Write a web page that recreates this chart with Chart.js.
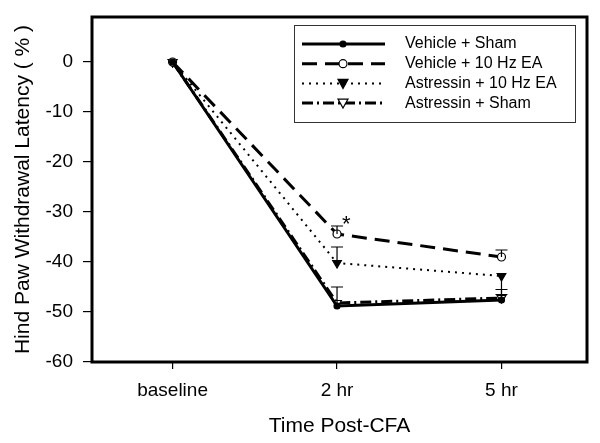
<!DOCTYPE html>
<html>
<head>
<meta charset="utf-8">
<script src="https://cdn.jsdelivr.net/npm/chart.js@4.4.0/dist/chart.umd.min.js"></script>
<style>
  body { margin: 0; background: #fff; }
</style>
</head>
<body>
<canvas id="myChart" width="600" height="443"></canvas>
<script>
// data
var timeLabels = ["baseline", "2 hr", "5 hr"];
var yTicks = [0, -10, -20, -30, -40, -50, -60];

var vehicleSham = [0, -48.8, -47.6];
var vehicleEA = [0, -34.4, -39.0];
var astressinEA = [0, -40.2, -42.8];
var astressinSham = [0, -48.2, -47.2];

// end of each error bar (null = none drawn)
var vehicleShamErr = [null, -45.0, null];
var vehicleEAErr = [null, -32.8, -37.6];
var astressinEAErr = [null, -37.0, -46.5];
var astressinShamErr = [null, null, -45.5];

var font = "'Liberation Sans', Arial, sans-serif";

function pts(arr) {
	return arr.map(function (v, i) { return { x: i, y: v }; });
}

var series = [
	{ label: "Vehicle + Sham", data: vehicleSham, err: vehicleShamErr, dash: [], width: 3, style: "circle", radius: 3, fill: "#000" },
	{ label: "Vehicle + 10 Hz EA", data: vehicleEA, err: vehicleEAErr, dash: [15, 8], width: 3, style: "circle", radius: 4, fill: "#fff" },
	{ label: "Astressin + 10 Hz EA", data: astressinEA, err: astressinEAErr, dash: [2, 5], width: 2, style: "triangle", radius: 5, fill: "#000" },
	{ label: "Astressin + Sham", data: astressinSham, err: astressinShamErr, dash: [11, 4, 2, 4], width: 3, style: "triangle", radius: 5, fill: "#fff" },
];

// frame, error bars, asterisk and boxed legend
var extras = {
	id: "extras",
	afterDatasetsDraw: function (chart) {
		var ctx = chart.ctx;
		var a = chart.chartArea;
		var xs = chart.scales.x, ys = chart.scales.y;
		ctx.save();
		// error bars
		ctx.strokeStyle = "#000";
		ctx.lineWidth = 1.2;
		series.forEach(function (s) {
			s.err.forEach(function (e, i) {
				if (e === null) return;
				var px = xs.getPixelForValue(i);
				var y0 = ys.getPixelForValue(s.data[i]);
				var y1 = ys.getPixelForValue(e);
				ctx.beginPath();
				ctx.moveTo(px, y0); ctx.lineTo(px, y1);
				ctx.moveTo(px - 6, y1); ctx.lineTo(px + 6, y1);
				ctx.stroke();
			});
		});
		// asterisk
		ctx.fillStyle = "#000";
		ctx.font = "22px " + font;
		ctx.textAlign = "left";
		ctx.textBaseline = "middle";
		ctx.fillText("*", xs.getPixelForValue(1) + 5, ys.getPixelForValue(-32.5));
		// frame
		ctx.lineWidth = 3;
		ctx.strokeRect(a.left, a.top, a.right - a.left, a.bottom - a.top);
		// legend box
		var lx = 294, ly = 25, lw = 281, lh = 97;
		ctx.fillStyle = "#fff";
		ctx.fillRect(lx, ly, lw, lh);
		ctx.lineWidth = 1;
		ctx.strokeStyle = "#333";
		ctx.strokeRect(lx + 0.5, ly + 0.5, lw, lh);
		ctx.font = "16px " + font;
		series.forEach(function (s, k) {
			var ry = 44 + k * 19.7;
			ctx.strokeStyle = "#000";
			ctx.lineWidth = s.width;
			ctx.setLineDash(s.dash);
			ctx.beginPath();
			ctx.moveTo(302, ry); ctx.lineTo(385, ry);
			ctx.stroke();
			ctx.setLineDash([]);
			ctx.lineWidth = 1.2;
			ctx.fillStyle = s.fill;
			ctx.beginPath();
			if (s.style === "circle") {
				ctx.arc(343, ry, s.radius, 0, Math.PI * 2);
			} else {
				ctx.moveTo(343 - 5, ry - 4); ctx.lineTo(343 + 5, ry - 4); ctx.lineTo(343, ry + 5);
				ctx.closePath();
			}
			ctx.fill(); ctx.stroke();
			ctx.fillStyle = "#000";
			ctx.fillText(s.label, 405, ry);
		});
		ctx.restore();
	},
};

var ctx = document.getElementById("myChart").getContext("2d");
var myChart = new Chart(ctx, {
	type: "line",
	data: {
		datasets: series.map(function (s) {
			return {
				label: s.label,
				data: pts(s.data),
				borderColor: "#000",
				borderWidth: s.width,
				borderDash: s.dash,
				pointStyle: s.style,
				pointRotation: s.style === "triangle" ? 180 : 0,
				pointRadius: s.radius,
				pointBackgroundColor: s.fill,
				pointBorderColor: "#000",
				pointBorderWidth: 1.2,
				tension: 0,
			};
		}),
	},
	plugins: [extras],
	options: {
		responsive: false,
		animation: false,
		devicePixelRatio: 1,
		layout: { padding: { top: 17, right: 13, left: 0, bottom: 0 } },
		plugins: { legend: { display: false }, tooltip: { enabled: false } },
		scales: {
			x: {
				type: "linear",
				min: -0.49,
				max: 2.52,
				afterBuildTicks: function (s) {
					s.ticks = [0, 1, 2].map(function (v) { return { value: v }; });
				},
				afterFit: function (s) {
					s.height = 81;
					s.paddingLeft = 0;
					s.paddingRight = 0;
				},
				grid: { drawOnChartArea: false, color: "#000", tickLength: 7, lineWidth: 1.2 },
				border: { display: false },
				ticks: {
					color: "#000",
					font: { family: font, size: 19 },
					padding: 10,
					maxRotation: 0,
					callback: function (v) { return timeLabels[v]; },
				},
				title: {
					display: true,
					text: "Time Post-CFA",
					color: "#000",
					font: { family: font, size: 21 },
					padding: { top: 4, bottom: 4 },
				},
			},
			y: {
				min: -60,
				max: 9,
				afterBuildTicks: function (s) {
					s.ticks = yTicks.map(function (v) { return { value: v }; });
				},
				afterFit: function (s) {
					s.width = 92;
					s.paddingTop = 0;
					s.paddingBottom = 0;
				},
				grid: { drawOnChartArea: false, color: "#000", tickLength: 9, lineWidth: 1.2 },
				border: { display: false },
				ticks: {
					color: "#000",
					font: { family: font, size: 19 },
					padding: 10,
				},
				title: {
					display: true,
					text: "Hind Paw Withdrawal Latency ( % )",
					color: "#000",
					font: { family: font, size: 21 },
					padding: { top: 11, bottom: 4 },
				},
			},
		},
	},
});
</script>
</body>
</html>
